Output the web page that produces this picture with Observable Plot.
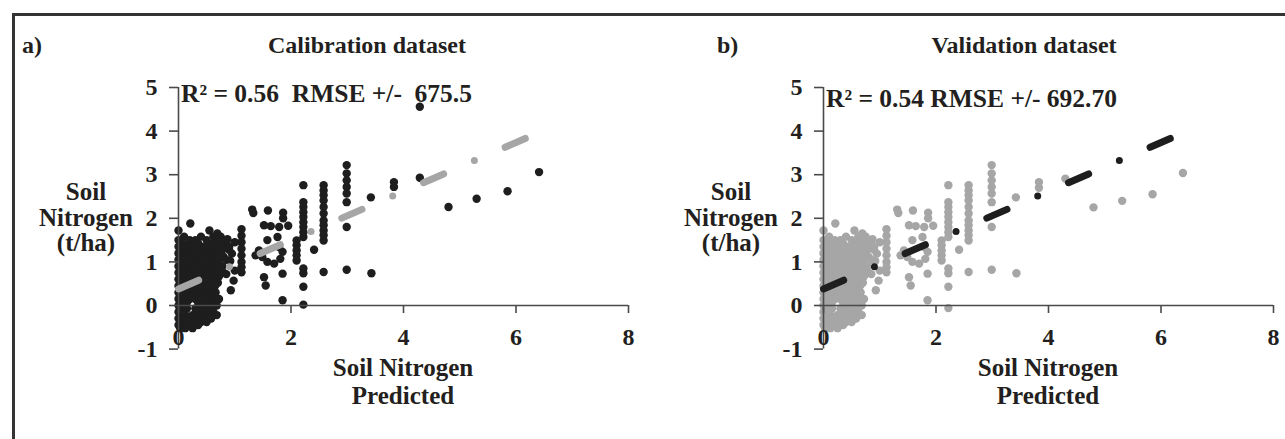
<!DOCTYPE html>
<html><head><meta charset="utf-8">
<script src="https://cdn.jsdelivr.net/npm/d3@7"></script>
<script src="https://cdn.jsdelivr.net/npm/@observablehq/plot@0.6"></script>
<style>
html,body{margin:0;padding:0;background:#fff;}
#fig{position:relative;width:1285px;height:439px;overflow:hidden;background:#fff;}
#frame{position:absolute;left:12px;top:13px;width:1300px;height:460px;border-left:3px solid #333;border-top:3px solid #333;}
.panel{position:absolute;top:0;}
#overlay{position:absolute;left:0;top:0;pointer-events:none;}
</style></head><body>
<div id="fig"><div id="frame"></div></div>
<script>
// ---- data ----
const xTicks = [0, 2, 4, 6, 8];
const yTicks = [-1, 0, 1, 2, 3, 4, 5];

// dense cloud near the origin (shared by both datasets)
const blobPoints = [
 [0.21,1.88],[0.0,1.72],[0.55,1.72],[0.69,1.65],
 [0.1,1.58],[0.4,1.58],[0.62,1.58],[0.75,1.58],
 [0.0,1.5],[0.2,1.5],[0.3,1.5],[0.5,1.5],[0.7,1.5],[0.87,1.52],
 [0.08,1.42],[0.35,1.42],[0.6,1.42],[0.81,1.42],
 [0.0,1.35],[0.15,1.35],[0.25,1.35],[0.45,1.35],[0.55,1.35],[0.7,1.35],
 [0.05,1.28],[0.35,1.28],[0.62,1.28],[0.78,1.28],[0.9,1.28],
 [0.0,1.2],[0.12,1.2],[0.22,1.2],[0.3,1.2],[0.42,1.2],[0.5,1.2],[0.6,1.2],[0.7,1.2],[0.95,1.19],
 [0.05,1.12],[0.18,1.12],[0.35,1.12],[0.55,1.12],[0.65,1.12],[0.8,1.12],
 [0.0,1.05],[0.1,1.05],[0.25,1.05],[0.4,1.05],[0.5,1.05],[0.6,1.05],[0.72,1.05],[0.85,1.05],
 [0.05,0.97],[0.15,0.97],[0.32,0.97],[0.45,0.97],[0.58,0.97],[0.7,0.97],
 [0.0,0.9],[0.1,0.9],[0.2,0.9],[0.3,0.9],[0.4,0.9],[0.55,0.9],[0.65,0.9],[0.78,0.9],
 [0.05,0.82],[0.15,0.82],[0.25,0.82],[0.35,0.82],[0.5,0.82],[0.62,0.82],[0.72,0.82],
 [0.0,0.75],[0.1,0.75],[0.2,0.75],[0.3,0.75],[0.45,0.75],[0.55,0.75],[0.68,0.75],[0.8,0.75],
 [0.05,0.67],[0.15,0.67],[0.25,0.67],[0.4,0.67],[0.5,0.67],[0.6,0.67],[0.72,0.67],
 [0.0,0.6],[0.1,0.6],[0.2,0.6],[0.35,0.6],[0.45,0.6],[0.55,0.6],[0.65,0.6],[0.98,0.57],
 [0.05,0.52],[0.15,0.52],[0.28,0.52],[0.4,0.52],[0.5,0.52],[0.6,0.52],[0.7,0.52],
 [0.0,0.45],[0.1,0.45],[0.22,0.45],[0.35,0.45],[0.45,0.45],[0.55,0.45],[0.65,0.45],
 [0.05,0.37],[0.15,0.37],[0.28,0.37],[0.4,0.37],[0.5,0.37],[0.6,0.37],[0.93,0.35],
 [0.0,0.3],[0.1,0.3],[0.2,0.3],[0.32,0.3],[0.45,0.3],[0.55,0.3],[0.66,0.3],
 [0.05,0.22],[0.15,0.22],[0.25,0.22],[0.38,0.22],[0.5,0.22],[0.6,0.22],
 [0.0,0.15],[0.1,0.15],[0.2,0.15],[0.3,0.15],[0.42,0.15],[0.52,0.15],[0.62,0.15],[0.72,0.15],
 [0.05,0.07],[0.15,0.07],[0.35,0.07],[0.45,0.07],[0.55,0.07],[0.65,0.07],
 [0.0,0.0],[0.1,0.0],[0.4,0.0],[0.5,0.0],[0.6,0.0],[0.68,0.0],
 [0.05,-0.07],[0.15,-0.07],[0.3,-0.07],[0.45,-0.07],[0.55,-0.07],
 [0.0,-0.15],[0.35,-0.15],[0.5,-0.15],[0.62,-0.15],
 [0.05,-0.22],[0.12,-0.22],[0.25,-0.22],[0.4,-0.22],[0.55,-0.22],[0.68,-0.22],
 [0.0,-0.3],[0.1,-0.3],[0.2,-0.3],[0.32,-0.3],[0.45,-0.3],[0.58,-0.3],
 [0.05,-0.38],[0.15,-0.38],[0.28,-0.38],[0.4,-0.38],[0.5,-0.38],
 [0.0,-0.45],[0.1,-0.45],[0.2,-0.45],[0.35,-0.45],
 [0.03,-0.52],[0.12,-0.52],[0.25,-0.52]
];

// mid-range points (shared)
const midPoints = [
 [1.12,1.75],[1.12,1.6],[1.12,1.45],[1.12,1.3],[1.12,1.15],[1.12,1.0],[1.12,0.88],[1.12,0.76],
 [0.9,1.35],[0.92,1.02],[0.85,0.72],[1.0,1.45],[1.0,0.8],
 [1.31,2.2],[1.33,2.12],[1.59,2.18],[1.86,2.13],[1.86,2.0],
 [1.52,1.84],[1.64,1.82],[1.79,1.8],[1.95,1.83],
 [1.58,1.5],[1.76,1.57],
 [1.43,1.26],[1.49,1.11],[1.58,1.0],[1.7,0.96],[1.81,1.07],[1.85,1.23],[1.79,1.34],[1.37,1.15],
 [1.52,0.65],[1.55,0.46],[1.85,0.73],[1.85,0.12],
 [2.1,1.49],[2.1,1.38],[2.1,1.26],[2.1,1.15],[2.1,1.03],
 [2.22,2.76],[2.22,2.37],[2.22,2.26],[2.22,2.14],[2.22,2.03],[2.22,1.91],[2.22,1.8],[2.22,1.68],[2.22,1.57],
 [2.22,0.85],[2.22,0.74],[2.22,0.43],
 [2.41,1.28],
 [2.58,2.76],[2.58,2.64],[2.58,2.53],[2.58,2.41],[2.58,2.26],[2.58,2.11],[2.58,1.95],[2.58,1.84],[2.58,1.72],[2.58,1.61],[2.58,1.49],[2.58,0.77],
 [2.99,3.22],[2.99,3.03],[2.99,2.87],[2.99,2.72],[2.99,2.57],[2.99,2.37],[2.99,1.8],[2.99,0.82],
 [3.42,2.48],[3.43,0.74]
];

const calibrationExtra = [[2.22,0.02],[3.83,2.83],[3.83,2.72],[4.29,4.56],[4.29,2.93],[4.8,2.26],[5.3,2.45],[5.85,2.62],[6.41,3.06]];
const validationExtra  = [[2.22,-0.06],[3.83,2.83],[3.83,2.7],[4.3,2.91],[4.8,2.25],[5.31,2.4],[5.85,2.55],[6.39,3.04]];

// fitted line end points
const trendX = [0, 6.2];
const trendY = [0.38, 3.85];

const calibrationPoints = blobPoints.concat(midPoints, calibrationExtra);
const validationPoints  = blobPoints.concat(midPoints, validationExtra);

// ---- styles ----
const BLACK = "#1e1e1e", GRAY = "#a6a6a6", AXIS = "#4a4a4a", TEXT = "#231f20";
const FONT = "'Liberation Serif','Times New Roman',serif";

function panel(points, dotColor, lineColor) {
  const trend = trendX.map((x, i) => ({x, y: trendY[i]}));
  return Plot.plot({
    width: 640, height: 439,
    marginLeft: 178, marginRight: 12, marginTop: 87, marginBottom: 134,
    x: {domain: [0, 8], axis: null},
    y: {domain: [0, 5], axis: null},
    style: {background: "transparent", fontFamily: FONT, fontWeight: "bold", fontSize: "24px", color: TEXT, maxWidth: "none", overflow: "visible"},
    marks: [
      Plot.dot(points, {x: d => d[0], y: d => d[1], r: 4.2, fill: dotColor}),
      Plot.ruleX([0], {y1: -1, y2: 5, stroke: AXIS, strokeWidth: 1.6}),
      Plot.ruleY([0], {x1: 0, x2: 8, stroke: AXIS, strokeWidth: 1.6}),
      Plot.axisY(yTicks, {anchor: "left", label: null, tickSize: 9, tickPadding: 12, stroke: AXIS, strokeWidth: 1.6, fill: TEXT, tickFormat: d => String(d)}),
      Plot.axisX(xTicks, {anchor: "bottom", label: null, tickSize: 8, tickPadding: 14, stroke: AXIS, strokeWidth: 1.6, fill: TEXT, tickFormat: d => String(d)}),
      Plot.line(trend, {x: "x", y: "y", stroke: lineColor, strokeWidth: 7, strokeLinecap: "round", strokeDasharray: "22,33.5,0,33.5"})
    ]
  });
}

const fig = document.getElementById("fig");
const left = panel(calibrationPoints, BLACK, GRAY);
left.classList.add("panel"); left.style.left = "0px";
fig.appendChild(left);
const right = panel(validationPoints, GRAY, BLACK);
right.classList.add("panel"); right.style.left = "645px";
fig.appendChild(right);

// ---- texts ----
const texts = [
  {t: "a)", x: 22, y: 53, a: "start", s: 24},
  {t: "Calibration dataset", x: 367, y: 53, a: "middle", s: 24},
  {t: "b)", x: 717, y: 53, a: "start", s: 24},
  {t: "Validation dataset", x: 1024, y: 53, a: "middle", s: 24},
  {t: "R² = 0.56  RMSE +/-  675.5", x: 181, y: 102, a: "start", s: 25.5},
  {t: "R² = 0.54 RMSE +/- 692.70", x: 826, y: 107, a: "start", s: 25.5},
  {t: "Soil", x: 86, y: 200, a: "middle", s: 25},
  {t: "Nitrogen", x: 86, y: 226, a: "middle", s: 25},
  {t: "(t/ha)", x: 86, y: 251, a: "middle", s: 25},
  {t: "Soil", x: 731, y: 200, a: "middle", s: 25},
  {t: "Nitrogen", x: 731, y: 226, a: "middle", s: 25},
  {t: "(t/ha)", x: 731, y: 251, a: "middle", s: 25},
  {t: "Soil Nitrogen", x: 403, y: 376, a: "middle", s: 25},
  {t: "Predicted", x: 403, y: 404, a: "middle", s: 25},
  {t: "Soil Nitrogen", x: 1048, y: 376, a: "middle", s: 25},
  {t: "Predicted", x: 1048, y: 404, a: "middle", s: 25}
];
const svg = d3.select(fig).append("svg").attr("id", "overlay").attr("width", 1285).attr("height", 439);
svg.selectAll("text").data(texts).join("text")
  .attr("x", d => d.x).attr("y", d => d.y)
  .attr("text-anchor", d => d.a)
  .attr("font-family", FONT).attr("font-weight", "bold")
  .attr("font-size", d => d.s).attr("fill", TEXT)
  .style("white-space", "pre").attr("xml:space", "preserve")
  .text(d => d.t);
</script>
</body></html>
